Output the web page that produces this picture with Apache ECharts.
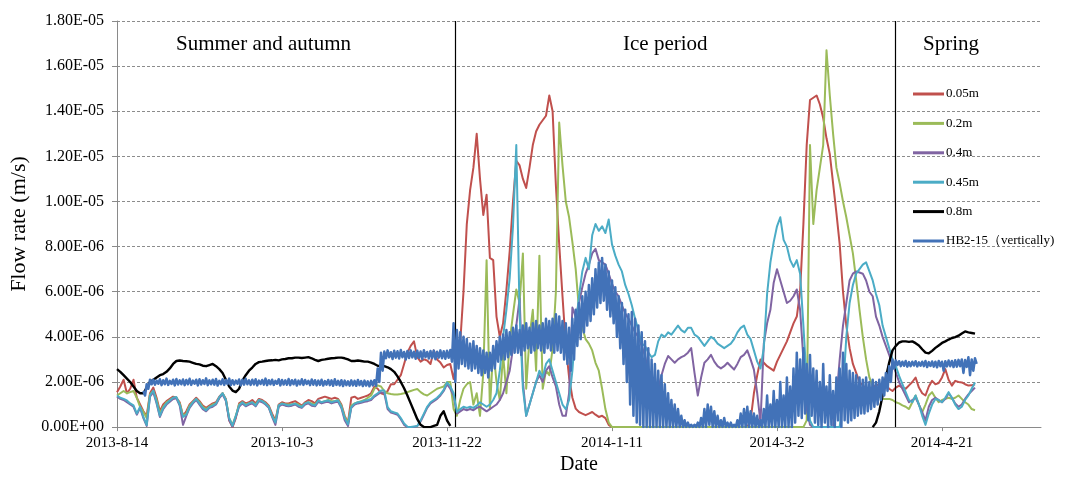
<!DOCTYPE html>
<html>
<head>
<meta charset="utf-8">
<title>Flow rate</title>
<script src="https://cdn.jsdelivr.net/npm/echarts@6/dist/echarts.min.js"></script>
<style>
  html, body { margin: 0; padding: 0; background: #ffffff; }
  #chart { width: 1070px; height: 480px; }
</style>
</head>
<body>
<div id="chart"></div>
<script>
// Daily flow rates, in units of 1E-06 m/s, first value = day 0 (2013-8-14)
const START_DATE = Date.UTC(2013, 7, 14);
const seriesNames = ['0.05m', '0.2m', '0.4m', '0.45m', '0.8m', 'HB2-15\uFF08vertically)'];
const periodLabels = ['Summer and autumn', 'Ice period', 'Spring'];
const periodBoundaries = [102.4, 235.8]; // days after 2013-8-14

const depth005 = [
  1.55,1.8,2.1,1.5,1.7,2.1,1.3,1.0,0.7,0.5,
  1.5,1.75,1.3,0.7,1.0,1.15,1.25,1.35,1.3,1.1,
  0.5,0.7,1.0,1.15,1.3,1.15,0.95,0.85,0.95,1.05,
  1.1,1.35,1.5,1.25,0.3,0.0,0.4,1.05,1.15,1.05,
  1.1,1.2,1.05,1.25,1.2,1.1,0.95,0.6,0.3,1.0,
  1.1,1.05,1.05,1.1,1.15,1.05,0.95,1.1,1.2,1.15,
  1.05,1.25,1.3,1.35,1.3,1.25,1.3,1.25,1.0,0.5,
  0.2,1.3,1.35,1.25,1.3,1.35,1.4,1.5,1.8,1.7,
  1.5,1.45,1.6,1.9,1.9,2.1,2.3,2.8,3.3,3.6,
  3.8,3.1,2.9,3.0,2.95,2.8,3.4,3.0,2.86,2.64,
  2.75,2.8,2.13,3.0,3.73,6.0,9.0,10.5,11.5,13.0,
  11.0,9.4,10.3,7.5,7.4,4.9,4.0,4.6,6.07,7.8,
  10.0,11.8,11.6,11.0,10.6,11.5,12.5,13.1,13.4,13.6,
  13.8,14.7,14.0,10.7,8.1,5.8,3.6,2.2,1.3,0.82,
  0.67,0.6,0.53,0.6,0.67,0.55,0.45,0.5,0.4,0.1,
  0,0,0,0,0,0,0,0,0,0,
  0,0,0,0,0,0,0,0,0,0,
  0,0,0,0,0,0,0,0,0,0,
  0,0,0,0,0,0,0,0,0,0,
  0,0,0.3,1.5,2.3,3.0,2.85,2.7,2.6,2.5,
  2.9,3.2,3.5,3.8,4.2,4.6,4.9,6.0,9.0,12.5,
  14.5,14.6,14.7,14.3,13.7,12.8,12.1,10.8,9.5,8.1,
  6.0,4.5,3.5,2.8,2.4,2.0,1.85,1.7,1.7,1.77,
  1.85,1.9,1.85,1.84,1.7,1.6,1.75,1.84,1.75,1.7,
  1.85,2.0,2.2,1.75,1.5,1.4,1.8,2.05,1.9,1.95,
  2.2,2.57,2.1,1.84,2.05,2.0,1.98,1.9,1.84,1.85,
  1.9
];

const depth02 = [
  1.4,1.5,1.6,1.5,1.55,1.6,1.3,0.9,0.67,0.4,
  1.45,1.6,1.2,0.6,0.9,1.1,1.2,1.3,1.3,1.05,
  0.5,0.6,0.95,1.1,1.25,1.1,0.9,0.8,0.9,1.0,
  1.05,1.3,1.5,1.2,0.4,0.1,0.5,1.0,1.1,1.0,
  1.05,1.1,1.0,1.2,1.15,1.05,0.9,0.5,0.25,0.95,
  1.05,1.0,1.0,1.0,1.05,1.0,0.9,1.05,1.1,1.05,
  1.0,1.15,1.1,1.15,1.2,1.15,1.15,1.2,0.95,0.45,
  0.2,0.95,1.05,1.1,1.15,1.2,1.3,1.4,1.7,1.85,
  1.8,1.6,1.5,1.47,1.45,1.45,1.47,1.5,1.55,1.6,
  1.65,1.69,1.55,1.45,1.4,1.5,1.6,1.7,1.75,1.8,
  2.0,2.0,0.8,0.5,1.2,1.7,1.9,2.0,1.0,1.5,
  0.5,2.4,7.4,0.8,3.45,2.0,1.2,3.2,1.5,3.8,
  5.0,6.1,5.5,7.7,1.7,4.0,5.2,2.5,7.6,1.7,
  2.5,2.3,3.5,6.0,13.5,11.6,10.0,9.3,8.2,7.0,
  5.2,4.4,3.9,3.7,3.4,2.85,2.5,1.7,0.8,0.2,
  0,0,0,0,0,0,0,0,0,0,
  0,0,0,0,0,0,0,0,0,0,
  0,0,0,0,0,0,0,0,0,0,
  0,0,0,0,0,0,0,0,0,0,
  0,0,0,0,0,0,0,0,0,0,
  0,0,0,0,0,0,0,0,0,0.3,
  12.5,9.0,10.5,11.5,12.5,16.7,14.7,13.0,11.5,10.8,
  10.0,9.3,8.5,7.7,6.5,5.2,4.0,3.0,2.2,1.8,
  1.5,1.35,1.25,1.25,1.25,1.2,1.1,1.05,0.96,0.9,
  0.8,1.1,1.4,1.0,0.66,1.0,1.4,1.55,1.3,1.1,
  1.2,1.25,1.3,1.25,1.3,1.4,1.25,1.1,1.0,0.8,
  0.75
];

const depth04 = [
  1.35,1.25,1.2,1.1,1.0,0.9,0.55,0.85,0.4,0.05,
  1.35,1.55,1.05,0.45,0.8,1.0,1.12,1.25,1.28,0.95,
  0.1,0.5,0.85,1.05,1.2,1.0,0.8,0.7,0.85,0.9,
  1.0,1.28,1.45,1.15,0.3,0.02,0.45,0.9,1.05,0.92,
  1.0,1.05,0.92,1.15,1.1,1.0,0.85,0.45,0.1,0.9,
  1.0,0.95,0.92,0.95,1.0,0.9,0.85,1.0,1.05,0.95,
  0.92,1.12,1.05,1.1,1.12,1.05,1.1,1.12,0.85,0.3,
  0.05,0.85,1.0,1.05,1.08,1.12,1.15,1.2,1.35,1.45,
  1.55,1.5,0.8,0.65,0.6,0.55,0.35,0.1,0,0,
  0,0.05,0.25,0.55,0.85,1.05,1.15,1.25,1.4,1.6,
  1.9,1.7,1.4,0.6,0.7,0.8,0.75,0.8,0.75,0.85,
  0.9,0.8,0.7,0.8,0.9,1.0,1.2,1.5,2.0,2.5,
  3.5,4.5,5.7,2.0,0.5,1.0,1.5,2.0,2.3,2.0,
  2.5,2.7,2.2,1.8,1.0,0.5,0.5,1.5,5.3,4.9,
  5.5,6.2,6.8,7.2,7.7,7.9,7.4,7.3,7.2,6.8,
  6.35,6.0,5.8,5.4,5.05,4.8,4.5,4.2,4.0,3.6,
  3.15,2.5,1.85,1.75,1.7,2.3,2.8,3.15,3.0,2.85,
  3.0,3.1,3.17,3.3,3.5,2.4,1.4,2.2,2.85,3.0,
  3.2,2.9,2.7,2.6,2.7,2.85,2.7,2.55,2.8,3.1,
  3.2,3.4,3.0,2.55,1.5,0.2,3.7,4.6,5.2,6.4,
  7.0,6.5,6.0,5.5,5.6,5.8,6.1,5.2,3.0,0.8,
  0.1,0,0,0,0,0,0,0,1.25,3.0,
  4.5,5.5,6.5,6.8,6.9,6.85,6.8,6.5,6.0,5.8,
  4.9,4.5,4.0,3.6,3.2,2.8,2.43,2.0,1.7,1.4,
  1.1,1.2,1.3,1.0,0.66,0.3,0.9,1.2,1.3,1.2,
  1.1,1.25,1.5,1.3,1.05,0.9,1.0,1.25,1.45,1.6,
  1.75
];

const depth045 = [
  1.4,1.3,1.25,1.18,1.05,0.96,0.6,0.9,0.45,0.09,
  1.4,1.62,1.1,0.5,0.85,1.05,1.18,1.3,1.33,1.0,
  0.45,0.55,0.9,1.1,1.25,1.05,0.85,0.74,0.89,0.95,
  1.04,1.33,1.5,1.2,0.4,0.06,0.5,0.96,1.1,0.96,
  1.05,1.1,0.96,1.2,1.15,1.04,0.89,0.5,0.2,0.96,
  1.04,1.0,0.96,1.0,1.04,0.95,0.89,1.05,1.1,1.0,
  0.96,1.18,1.1,1.15,1.18,1.1,1.15,1.18,0.89,0.4,
  0.12,0.89,1.04,1.1,1.12,1.18,1.2,1.25,1.4,1.5,
  1.62,1.62,0.89,0.7,0.65,0.6,0.4,0.16,0.02,0,
  0.03,0.05,0.3,0.6,0.9,1.1,1.2,1.3,1.45,1.65,
  1.98,1.8,1.5,0.67,0.8,0.9,0.85,0.9,0.85,0.95,
  1.1,1.0,0.9,1.0,1.2,1.5,2.5,4.0,5.2,6.6,
  8.9,12.5,5.0,1.7,0.5,1.0,1.5,2.0,2.5,2.2,
  2.8,3.0,2.5,2.0,1.5,1.0,0.8,1.2,2.5,4.5,
  5.8,6.9,7.5,7.0,8.5,9.0,8.7,8.9,8.6,9.2,
  8.1,7.6,7.2,6.9,6.3,5.9,5.4,4.8,4.3,3.7,
  3.6,3.3,3.1,3.2,3.8,4.1,4.0,4.2,4.1,4.3,
  4.5,4.3,4.2,4.4,4.4,4.1,4.0,3.8,3.6,3.8,
  4.0,3.9,3.7,3.6,3.5,3.6,3.7,3.9,4.2,4.4,
  4.5,4.1,3.9,3.4,2.9,2.6,3.5,5.9,7.3,8.2,
  8.9,9.3,8.3,8.0,7.4,7.1,7.4,6.8,4.5,2.0,
  0.3,0,0,0,0,0,0,0,0,0,
  1.5,4.0,5.5,6.3,6.8,7.0,7.2,7.3,6.9,6.5,
  5.9,5.4,4.5,4.0,3.5,3.0,2.7,2.27,1.9,1.55,
  1.2,1.1,1.4,1.0,0.5,0.1,0.6,1.0,1.25,1.2,
  1.1,1.3,1.55,1.3,1.0,0.8,0.9,1.2,1.4,1.7,
  1.98
];

// 0.8m: logged until day 101, again from day 229
const depth08Autumn = [
  2.57,2.45,2.3,2.15,2.0,1.8,1.6,1.5,1.5,1.75,
  2.0,2.1,2.2,2.3,2.35,2.45,2.6,2.8,2.93,2.95,
  2.93,2.92,2.9,2.85,2.8,2.78,2.72,2.7,2.75,2.8,
  2.7,2.57,2.4,2.1,1.8,1.62,1.55,1.7,2.06,2.3,
  2.5,2.64,2.8,2.88,2.9,2.93,2.95,2.96,2.98,2.96,
  3.0,3.02,3.05,3.05,3.08,3.08,3.06,3.08,3.1,3.05,
  2.98,2.93,2.98,3.0,3.03,3.05,3.06,3.08,3.08,3.05,
  3.0,2.93,2.93,2.95,2.93,2.9,2.9,2.86,2.8,2.72,
  2.71,2.7,2.65,2.57,2.45,2.25,2.0,1.72,1.4,1.05,
  0.7,0.35,0.1,0,0,0,0.05,0.1,0.5,0.7,
  0.3,0.05
];
const depth08SpringStart = 229;
const depth08Spring = [
  0,0.2,0.7,1.4,2.2,2.86,3.4,3.6,3.75,3.8,3.8,
  3.78,3.8,3.72,3.62,3.45,3.3,3.27,3.38,3.51,3.62,
  3.73,3.8,3.88,3.95,3.99,4.05,4.15,4.24,4.2,4.17,
  4.14
];

// HB2-15: daily upper and lower reading, from day 8
const hb2Start = 8;
const hb2High = [
  1.6,1.9,2.1,
  2.1,2.06,2.12,2.08,2.15,2.05,2.1,2.13,2.07,2.11,
  2.09,2.14,2.06,2.1,2.12,2.08,2.16,2.07,2.1,2.13,
  2.05,2.12,2.09,2.15,2.08,2.06,2.11,2.1,2.14,2.07,
  2.1,2.12,2.06,2.09,2.15,2.08,2.1,2.05,2.12,2.09,
  2.07,2.13,2.08,2.1,2.06,2.12,2.09,2.05,2.11,2.08,
  2.06,2.1,2.04,2.09,2.07,2.12,2.05,2.08,2.06,2.03,
  2.07,2.05,2.09,2.04,2.06,2.03,2.05,2.08,
  2.6,3.3,
  3.35,3.4,3.32,3.38,3.36,3.42,3.33,3.37,3.4,3.34,
  3.38,3.35,3.41,3.33,3.37,3.39,3.34,3.4,3.36,3.38,3.42,
  4.6,4.3,4.2,4.0,3.9,3.7,3.8,3.6,3.5,3.4,
  3.3,3.3,3.6,3.8,4.0,4.1,4.3,4.2,4.4,4.5,
  4.3,4.5,4.6,4.4,4.6,4.7,4.5,4.6,4.8,4.7,
  4.8,5.0,4.9,4.7,4.6,4.4,4.8,5.2,5.5,5.8,
  6.0,6.3,6.6,7.0,7.3,7.5,7.2,6.9,6.5,6.2,
  5.8,5.5,5.2,5.0,5.1,4.8,4.5,4.2,3.8,3.5,
  3.0,2.8,2.5,2.3,1.9,1.5,1.2,1.0,0.8,0.5,
  0.3,0.2,0.1,0.1,0.2,0.4,0.8,1.0,0.9,0.7,
  0.5,0.3,0.4,0.2,0.2,0.1,0.3,0.6,0.8,0.9,
  0.7,0.6,0.5,0.3,0.8,1.4,1.0,1.6,1.2,2.0,
  1.4,2.2,1.8,2.6,3.3,3.0,3.5,2.8,3.2,2.6,
  2.5,2.0,2.8,1.8,2.3,1.6,2.2,2.6,3.3,2.8,
  2.5,2.4,2.3,2.2,2.1,2.2,2.0,2.1,2.0,2.1,
  2.2,2.4,2.7,3.0,2.95,2.92,2.9,2.93,2.88,2.9,
  2.92,2.87,2.9,2.93,2.88,2.91,2.9,2.93,2.9,2.92,
  2.95,2.93,2.96,2.98,3.0,2.97,3.1,3.0,3.05
];
const hb2Low = [
  1.4,1.7,1.9,
  1.88,1.92,1.86,1.9,1.87,1.91,1.85,1.89,1.9,1.86,
  1.9,1.87,1.92,1.85,1.89,1.91,1.86,1.9,1.88,1.84,
  1.9,1.87,1.91,1.86,1.89,1.92,1.85,1.88,1.9,1.87,
  1.89,1.85,1.91,1.88,1.86,1.9,1.87,1.92,1.85,1.89,
  1.88,1.86,1.9,1.84,1.89,1.87,1.91,1.86,1.88,1.85,
  1.87,1.84,1.88,1.86,1.83,1.87,1.85,1.82,1.86,1.84,
  1.85,1.83,1.86,1.82,1.84,1.81,1.85,1.83,
  2.0,2.5,
  3.05,3.1,3.02,3.08,3.04,3.1,3.0,3.06,3.09,3.03,
  3.07,3.02,3.1,3.04,3.06,3.01,3.08,3.05,3.03,3.07,2.9,
  2.0,2.6,2.8,2.7,2.6,2.5,2.6,2.4,2.3,2.4,
  2.2,2.5,2.6,2.9,3.0,3.0,3.1,3.2,3.3,3.3,
  3.2,3.4,3.5,3.3,3.4,3.5,3.4,3.3,3.5,3.4,
  3.3,3.4,3.3,3.0,2.8,2.5,3.0,3.6,3.9,4.2,
  4.5,4.7,5.0,5.3,5.5,5.6,5.2,4.9,4.6,4.0,
  3.5,2.8,2.0,1.0,0.5,0.2,0.1,0,0,0,
  0,0,0,0,0,0,0,0,0,0,
  0,0,0,0,0,0,0,0.1,0,0,
  0,0,0,0,0,0,0,0,0,0,
  0,0,0,0,0,0,0,0,0,0,
  0,0,0,0.2,0.5,0.4,0.6,0.3,0.5,0.2,
  0.1,0,0.2,0,0.1,0,0.3,0,0.3,0.2,
  0.3,0.4,0.5,0.6,0.6,0.7,0.8,0.9,1.0,1.2,
  1.4,1.6,2.0,2.6,2.75,2.7,2.72,2.68,2.7,2.73,
  2.69,2.72,2.7,2.66,2.71,2.68,2.65,2.7,2.5,2.69,
  2.7,2.66,2.68,2.7,2.4,2.67,2.3,2.5,2.8
];

const yTicks = { min: 0, max: 1.8e-5, step: 2e-6 };
const xTicks = { min: 0, max: 280, step: 50 };

const MICRO = 1e-6;
function daily(start, values) {
  return values.map((v, i) => [start + i, v == null ? null : v * MICRO]);
}
function highLow(start, hi, lo) {
  const out = [];
  for (let i = 0; i < hi.length; i++) {
    out.push([start + i, hi[i] * MICRO]);
    out.push([start + i + 0.5, lo[i] * MICRO]);
  }
  return out;
}
function dateLabel(d) {
  if (d % 50 !== 0) return '';
  const t = new Date(START_DATE + d * 86400000);
  return t.getUTCFullYear() + '-' + (t.getUTCMonth() + 1) + '-' + t.getUTCDate();
}
function sciLabel(v) {
  if (Math.abs(v) < 1e-12) return '0.00E+00';
  const parts = v.toExponential(2).split('e');
  const exp = parseInt(parts[1], 10);
  return parts[0] + 'E' + (exp < 0 ? '-' : '+') + String(Math.abs(exp)).padStart(2, '0');
}

const SERIF = '"Liberation Serif", "Times New Roman", serif';
const colors = ['#C0504D', '#9BBB59', '#8064A2', '#4BACC6', '#000000', '#4272B8'];

const depth08Data = daily(0, depth08Autumn)
  .concat([[depth08Autumn.length - 0.5, null]])
  .concat(daily(depth08SpringStart, depth08Spring));

const seriesData = [
  daily(0, depth005),
  daily(0, depth02),
  daily(0, depth04),
  daily(0, depth045),
  depth08Data,
  highLow(hb2Start, hb2High, hb2Low)
];
const widths = [2, 2, 2, 2, 2.4, 2.5];

const chart = echarts.init(document.getElementById('chart'), null, { renderer: 'canvas' });

const series = seriesNames.map((name, i) => ({
  name: name,
  type: 'line',
  data: seriesData[i],
  showSymbol: false,
  symbol: 'none',
  connectNulls: false,
  sampling: null,
  lineStyle: { color: colors[i], width: widths[i], join: 'round' },
  itemStyle: { color: colors[i] },
  z: 2 + i,
  animation: false
}));

// Period boundaries
series[5].markLine = {
  silent: true,
  symbol: ['none', 'none'],
  label: { show: false },
  lineStyle: { color: '#000000', width: 1.2, type: 'solid' },
  data: periodBoundaries.map(d => ({ xAxis: d })),
  animation: false
};

const titleFont = '21px ' + SERIF;

chart.setOption({
  backgroundColor: '#ffffff',
  animation: false,
  color: colors,
  grid: { left: 117, right: 29, top: 21, bottom: 48, containLabel: false },
  legend: {
    data: seriesNames,
    orient: 'vertical',
    left: 908,
    top: 82,
    icon: 'rect',
    itemWidth: 31,
    itemHeight: 3,
    itemGap: 15.4,
    textStyle: { fontFamily: SERIF, fontSize: 13, color: '#000', lineHeight: 14, padding: [0, 0, 0, -3] }
  },
  xAxis: {
    type: 'value',
    min: xTicks.min,
    max: xTicks.max,
    interval: xTicks.step,
    name: 'Date',
    nameLocation: 'middle',
    nameGap: 27,
    nameTextStyle: { fontFamily: SERIF, fontSize: 20, color: '#000' },
    axisLine: { show: true, lineStyle: { color: '#8a8a8a', width: 1 } },
    axisTick: { show: true, length: 4, lineStyle: { color: '#8a8a8a' } },
    axisLabel: { formatter: dateLabel, fontFamily: SERIF, fontSize: 15, color: '#000', margin: 8, showMaxLabel: false },
    splitLine: { show: false }
  },
  yAxis: {
    type: 'value',
    min: yTicks.min,
    max: yTicks.max,
    interval: yTicks.step,
    name: 'Flow rate (m/s)',
    nameLocation: 'middle',
    nameRotate: 90,
    nameGap: 84,
    nameTextStyle: { fontFamily: SERIF, fontSize: 22, color: '#000' },
    axisLine: { show: true, lineStyle: { color: '#8a8a8a', width: 1 } },
    axisTick: { show: true, length: 5, lineStyle: { color: '#8a8a8a' } },
    axisLabel: { formatter: sciLabel, fontFamily: SERIF, fontSize: 16, color: '#000', margin: 13 },
    splitLine: { show: true, lineStyle: { color: '#8c8c8c', width: 1, type: [3, 2] } }
  },
  graphic: [
    { type: 'text', left: 176, top: 34, style: { text: periodLabels[0], font: titleFont, fill: '#000' } },
    { type: 'text', left: 623, top: 34, style: { text: periodLabels[1], font: titleFont, fill: '#000' } },
    { type: 'text', left: 923, top: 34, style: { text: periodLabels[2], font: titleFont, fill: '#000' } }
  ],
  series: series
});
</script>
</body>
</html>
